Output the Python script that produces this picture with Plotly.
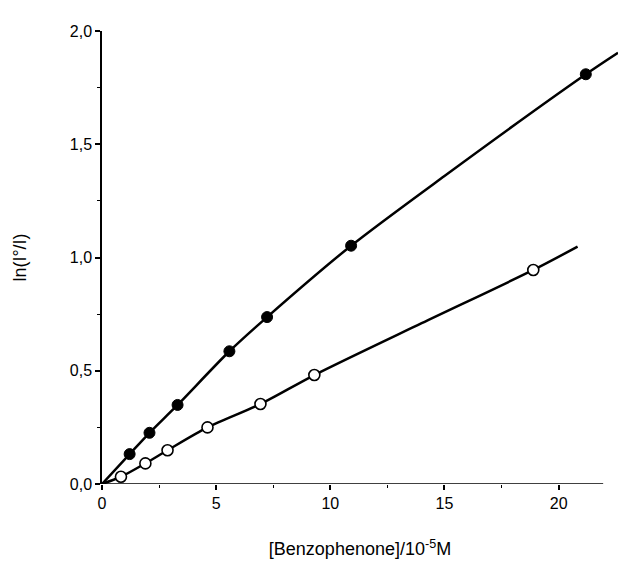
import plotly.graph_objects as go

# Data
filled_x = [1.21, 2.08, 3.31, 5.58, 7.23, 10.91, 21.19]
filled_y = [0.132, 0.226, 0.349, 0.586, 0.737, 1.052, 1.809]
open_x = [0.83, 1.90, 2.87, 4.62, 6.94, 9.30, 18.89]
open_y = [0.032, 0.091, 0.149, 0.250, 0.353, 0.481, 0.945]

# Fitted curves (drawn lines)
fit_filled_x = [0, 1.21, 2.08, 3.31, 5.58, 7.23, 10.91, 15.0, 21.19, 22.6]
fit_filled_y = [0, 0.132, 0.226, 0.349, 0.586, 0.737, 1.052, 1.36, 1.809, 1.904]
fit_open_x = [0, 0.83, 1.90, 2.87, 4.62, 6.94, 9.30, 14.0, 18.89, 20.83]
fit_open_y = [0, 0.032, 0.091, 0.149, 0.250, 0.353, 0.481, 0.71, 0.945, 1.048]

x_ticks = [0, 5, 10, 15, 20]
x_ticktext = ["0", "5", "10", "15", "20"]
y_ticks = [0, 0.5, 1.0, 1.5, 2.0]
y_ticktext = ["0,0", "0,5", "1,0", "1,5", "2,0"]
x_axis_end = 21.95

fig = go.Figure()
fig.add_trace(go.Scatter(x=fit_filled_x, y=fit_filled_y, mode="lines",
                         line=dict(color="black", width=2.5, shape="spline", smoothing=0.8),
                         hoverinfo="skip", showlegend=False))
fig.add_trace(go.Scatter(x=fit_open_x, y=fit_open_y, mode="lines",
                         line=dict(color="black", width=2.5, shape="spline", smoothing=0.8),
                         hoverinfo="skip", showlegend=False))
fig.add_trace(go.Scatter(x=filled_x, y=filled_y, mode="markers",
                         marker=dict(symbol="circle", size=11, color="black",
                                     line=dict(color="black", width=1)),
                         showlegend=False, cliponaxis=False))
fig.add_trace(go.Scatter(x=open_x, y=open_y, mode="markers",
                         marker=dict(symbol="circle", size=11, color="white",
                                     line=dict(color="black", width=1.6)),
                         showlegend=False, cliponaxis=False))

# x axis line ending before the plot edge
fig.add_shape(type="line", xref="x", yref="y", x0=0, x1=x_axis_end, y0=0, y1=0,
              line=dict(color="black", width=1.5), layer="above")

font = dict(family="Liberation Sans, Arial, sans-serif", size=16, color="black")

fig.update_layout(
    width=618, height=562,
    margin=dict(l=102, r=0, t=31, b=78),
    paper_bgcolor="white", plot_bgcolor="white",
    font=font,
    xaxis=dict(range=[0, 22.6], showgrid=False, zeroline=False, showline=False,
               tickmode="array", tickvals=x_ticks, ticktext=x_ticktext,
               ticks="outside", ticklen=5, tickwidth=1.5, tickcolor="black",
               minor=dict(tickvals=[2.5, 7.5, 12.5, 17.5], ticks="outside", ticklen=3,
                          tickwidth=1, tickcolor="black"),
               tickfont=dict(size=16),
               title=dict(text="[Benzophenone]/10<sup>-5</sup>M", font=dict(size=18), standoff=31)),
    yaxis=dict(range=[0, 2.0], showgrid=False, zeroline=False, showline=True,
               linecolor="black", linewidth=1.5,
               tickmode="array", tickvals=y_ticks, ticktext=y_ticktext,
               ticks="outside", ticklen=5, tickwidth=1.5, tickcolor="black",
               minor=dict(tickvals=[0.25, 0.75, 1.25, 1.75], ticks="outside", ticklen=3,
                          tickwidth=1, tickcolor="black"),
               tickfont=dict(size=16),
               title=dict(text="ln(I°/I)", font=dict(size=18), standoff=38)),
)

fig.write_html("out.html")
